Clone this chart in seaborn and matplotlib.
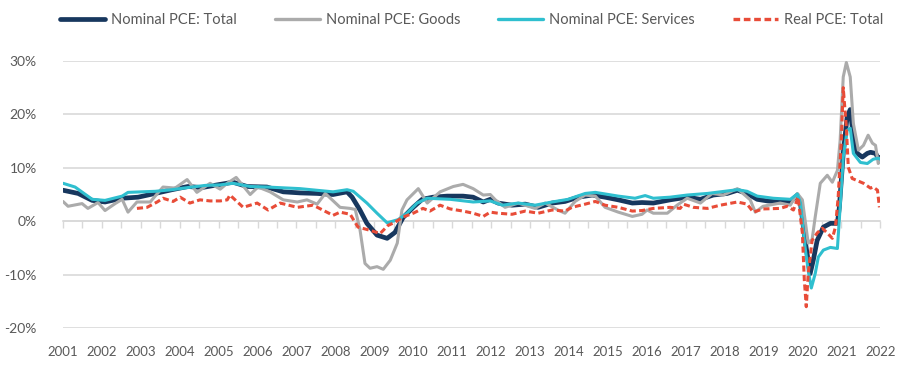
import numpy as np
import pandas as pd
import matplotlib
matplotlib.use("Agg")
import matplotlib.pyplot as plt
import seaborn as sns
from matplotlib.lines import Line2D

# ------------------------------
# Data (YoY % change)
# ------------------------------
total_year = [2001.00, 2001.39, 2001.75, 2002.08, 2002.52, 2002.93, 2003.37, 2003.80, 2004.21, 2004.57,
              2005.04, 2005.37, 2005.73, 2006.24, 2006.66, 2007.09, 2007.53, 2007.94, 2008.30, 2008.43,
              2008.63, 2008.81, 2009.07, 2009.33, 2009.53, 2009.74, 2010.00, 2010.23, 2010.51, 2010.87,
              2011.28, 2011.54, 2011.80, 2011.98, 2012.18, 2012.54, 2012.88, 2013.21, 2013.57, 2013.90,
              2014.24, 2014.60, 2014.93, 2015.27, 2015.63, 2015.88, 2016.17, 2016.60, 2017.04, 2017.38,
              2017.71, 2018.07, 2018.33, 2018.58, 2018.84, 2019.10, 2019.43, 2019.69, 2019.87, 2019.95,
              2020.07, 2020.20, 2020.28, 2020.38, 2020.54, 2020.72, 2020.90, 2020.95, 2021.05, 2021.15,
              2021.23, 2021.31, 2021.41, 2021.54, 2021.67, 2021.75, 2021.88, 2021.95, 2022.00]
total_pct = [5.8, 5.2, 3.9, 3.6, 4.3, 4.5, 5.2, 5.9, 6.5, 6.3,
             6.9, 7.3, 6.5, 6.4, 5.5, 5.3, 5.2, 5.0, 5.5, 4.5,
             2.1, -0.4, -2.6, -3.2, -2.1, 0.7, 2.6, 4.1, 4.5, 4.7,
             4.7, 4.5, 3.6, 4.1, 3.4, 3.0, 3.2, 2.6, 3.4, 3.7,
             4.5, 4.9, 4.5, 4.0, 3.4, 3.5, 3.4, 4.0, 4.5, 4.1,
             4.9, 5.2, 5.8, 5.2, 4.1, 3.8, 3.6, 3.6, 4.9, 3.4,
             -3.6, -9.8, -7.3, -3.6, -1.1, -0.4, -0.4, 2.6, 12.7, 19.5,
             20.9, 15.7, 12.7, 12.0, 12.7, 12.9, 12.7, 11.8, 11.9]

goods_year = [2001.00, 2001.13, 2001.49, 2001.64, 2001.90, 2002.08, 2002.34, 2002.52, 2002.67, 2002.90,
              2003.24, 2003.57, 2003.88, 2004.19, 2004.44, 2004.78, 2005.04, 2005.22, 2005.45, 2005.81,
              2006.01, 2006.32, 2006.66, 2007.02, 2007.27, 2007.53, 2007.74, 2008.12, 2008.38, 2008.51,
              2008.63, 2008.76, 2008.89, 2009.07, 2009.23, 2009.41, 2009.59, 2009.71, 2009.84, 2010.13,
              2010.36, 2010.69, 2011.03, 2011.28, 2011.54, 2011.80, 2011.98, 2012.11, 2012.36, 2012.70,
              2013.13, 2013.39, 2013.72, 2013.90, 2014.16, 2014.42, 2014.68, 2014.93, 2015.27, 2015.63,
              2015.88, 2016.01, 2016.17, 2016.53, 2016.78, 2017.04, 2017.38, 2017.68, 2017.97, 2018.33,
              2018.66, 2018.79, 2018.99, 2019.43, 2019.69, 2019.87, 2020.00, 2020.07, 2020.15, 2020.25,
              2020.33, 2020.46, 2020.64, 2020.77, 2020.90, 2020.97, 2021.05, 2021.13, 2021.23, 2021.31,
              2021.44, 2021.57, 2021.69, 2021.80, 2021.88, 2021.95, 2022.00]
goods_pct = [3.7, 2.8, 3.3, 2.4, 3.5, 2.0, 3.3, 4.1, 1.7, 3.6,
             3.6, 6.4, 6.2, 7.8, 5.4, 7.1, 6.0, 7.1, 8.2, 5.0,
             6.4, 5.5, 4.0, 3.6, 4.0, 3.2, 5.2, 2.6, 2.4, 2.2,
             -1.5, -7.9, -8.8, -8.5, -9.0, -7.3, -4.1, 2.1, 4.0, 6.1,
             3.4, 5.5, 6.5, 6.9, 6.1, 4.9, 5.0, 4.0, 2.6, 3.4,
             2.4, 3.4, 2.1, 1.5, 3.7, 4.9, 4.7, 2.6, 1.7, 0.9,
             1.3, 2.1, 1.5, 1.5, 3.0, 4.3, 3.4, 5.2, 4.9, 6.1,
             4.0, 1.7, 2.8, 3.4, 3.0, 5.2, 4.0, 0.2, -4.1, -3.4,
             0.8, 7.1, 8.6, 7.3, 9.5, 15.1, 27.0, 29.7, 27.0, 18.3,
             13.3, 14.2, 16.1, 14.6, 14.2, 10.8, 11.8]

services_year = [2001.00, 2001.31, 2001.75, 2002.08, 2002.52, 2002.67, 2003.37, 2003.80, 2004.21, 2004.65,
                 2005.04, 2005.37, 2005.81, 2006.24, 2007.09, 2007.94, 2008.30, 2008.46, 2008.81, 2009.07,
                 2009.33, 2009.61, 2009.84, 2010.10, 2010.36, 2010.95, 2011.54, 2011.98, 2012.29, 2012.70,
                 2013.13, 2013.57, 2013.98, 2014.42, 2014.68, 2015.27, 2015.70, 2015.96, 2016.17, 2016.60,
                 2017.04, 2017.56, 2018.33, 2018.58, 2018.84, 2019.25, 2019.69, 2019.87, 2019.95, 2020.07,
                 2020.15, 2020.23, 2020.33, 2020.41, 2020.54, 2020.72, 2020.90, 2020.97, 2021.05, 2021.15,
                 2021.23, 2021.31, 2021.49, 2021.67, 2021.82, 2021.95, 2022.00]
services_pct = [7.1, 6.4, 4.1, 3.9, 4.7, 5.4, 5.6, 5.9, 6.3, 6.7,
                6.8, 7.1, 6.5, 6.4, 6.1, 5.5, 5.9, 5.6, 3.4, 1.5,
                -0.3, 0.3, 1.5, 3.4, 4.3, 4.1, 3.6, 3.8, 3.0, 3.4,
                3.0, 3.6, 4.1, 5.2, 5.4, 4.7, 4.3, 4.8, 4.3, 4.5,
                4.9, 5.2, 5.9, 5.6, 4.7, 4.3, 4.1, 5.1, 3.4, -4.9,
                -9.2, -12.5, -9.8, -6.7, -5.4, -4.9, -5.1, 2.6, 12.0, 17.0,
                17.4, 12.7, 11.0, 10.8, 11.6, 11.8, 11.6]

real_year = [2002.90, 2003.16, 2003.42, 2003.57, 2003.83, 2004.01, 2004.26, 2004.52, 2004.78, 2005.04,
             2005.22, 2005.29, 2005.63, 2005.99, 2006.27, 2006.58, 2007.02, 2007.43, 2007.94, 2008.12,
             2008.38, 2008.58, 2008.89, 2009.15, 2009.35, 2009.53, 2009.74, 2010.00, 2010.25, 2010.43,
             2010.69, 2010.95, 2011.28, 2011.54, 2011.80, 2011.98, 2012.18, 2012.54, 2012.88, 2013.21,
             2013.57, 2013.90, 2014.08, 2014.42, 2014.68, 2014.93, 2015.27, 2015.63, 2015.88, 2016.17,
             2016.60, 2016.86, 2016.94, 2017.20, 2017.56, 2017.89, 2018.33, 2018.58, 2018.74, 2018.99,
             2019.43, 2019.61, 2019.77, 2019.89, 2020.00, 2020.05, 2020.10, 2020.15, 2020.25, 2020.38,
             2020.51, 2020.64, 2020.77, 2020.85, 2020.92, 2021.00, 2021.05, 2021.13, 2021.18, 2021.28,
             2021.41, 2021.57, 2021.75, 2021.82, 2021.93, 2021.98]
real_pct = [2.4, 2.6, 3.6, 4.3, 3.7, 4.5, 3.4, 4.0, 3.8, 3.8,
            4.0, 4.9, 2.6, 3.4, 2.1, 3.4, 2.6, 3.0, 1.1, 1.7,
            1.3, -1.1, -1.7, -2.3, -0.8, -0.2, 0.8, 1.5, 2.4, 1.9,
            3.0, 2.3, 1.9, 1.5, 0.9, 1.7, 1.5, 1.3, 1.9, 1.5,
            2.1, 1.9, 2.6, 3.2, 3.7, 3.0, 2.6, 1.9, 2.0, 2.4,
            2.6, 2.4, 3.2, 2.6, 2.4, 3.0, 3.6, 3.2, 1.7, 2.3,
            2.4, 2.8, 2.1, 4.5, -2.2, -11.0, -16.0, -9.8, -3.6, -2.2,
            -1.3, -2.2, -3.2, -1.1, 4.5, 15.1, 25.0, 17.6, 10.1, 8.0,
            7.6, 7.1, 6.2, 6.4, 5.8, 2.6]

series_names = ['Nominal PCE: Total', 'Nominal PCE: Goods', 'Nominal PCE: Services', 'Real PCE: Total']
colors = ['#17375e', '#ababab', '#2fbfcf', '#e84c38']
year_ticks = list(range(2001, 2023))
pct_ticks = [-20, -10, 0, 10, 20, 30]

# ------------------------------
# Build a long-form table
# ------------------------------
frames = []
for name, yrs, vals in zip(series_names,
                           [total_year, goods_year, services_year, real_year],
                           [total_pct, goods_pct, services_pct, real_pct]):
    frames.append(pd.DataFrame({'year': yrs, 'pct': vals, 'series': name}))
df = pd.concat(frames, ignore_index=True)

# ------------------------------
# Plot
# ------------------------------
sns.set_theme(style='white')
plt.rcParams['font.family'] = ['Lato', 'DejaVu Sans']

fig = plt.figure(figsize=(9, 3.67), dpi=100)
ax = fig.add_axes([0.07, 0.106, 0.908, 0.728])

dash = (0, (2.0, 1.1))
widths = [3.4, 2.2, 2.2, 2.2]
for name, col, lw in zip(series_names, colors, widths):
    sub = df[df['series'] == name]
    if name.startswith('Real'):
        sns.lineplot(data=sub, x='year', y='pct', ax=ax, color=col, linewidth=lw,
                     estimator=None, sort=False, zorder=4, linestyle=dash)
    else:
        sns.lineplot(data=sub, x='year', y='pct', ax=ax, color=col, linewidth=lw,
                     estimator=None, sort=False, zorder=3)

ax.set_xlim(2001, 2022)
ax.set_ylim(-20, 30)
ax.set_xticks(year_ticks)
ax.set_xticklabels([str(y) for y in year_ticks])
ax.set_yticks(pct_ticks)
ax.set_yticklabels([f'{v}%' for v in pct_ticks])
ax.set_xlabel('')
ax.set_ylabel('')
ax.grid(axis='y', color='#d9d9d9', linewidth=1.2)
ax.grid(axis='x', visible=False)
for s in ax.spines.values():
    s.set_visible(False)
ax.tick_params(axis='x', length=0, pad=13, labelsize=9.5, labelcolor='#595959')
ax.tick_params(axis='y', length=0, pad=19, labelsize=10, labelcolor='#595959')

# zero line with half-year ticks
zero_loc = (0 - (-20)) / (30 - (-20))
sec = ax.secondary_xaxis(zero_loc)
sec.set_xticks(np.arange(2001, 2022.01, 0.5))
sec.set_xticklabels([])
sec.tick_params(axis='x', length=5, width=1, color='#d9d9d9', direction='out')
sec.spines['bottom'].set_color('#d9d9d9')
sec.spines['bottom'].set_linewidth(1.2)

handles = [Line2D([], [], color=colors[0], linewidth=3.4),
           Line2D([], [], color=colors[1], linewidth=2.4),
           Line2D([], [], color=colors[2], linewidth=2.4),
           Line2D([], [], color=colors[3], linewidth=2.4, linestyle=dash)]
fig.legend(handles, series_names, loc='upper center', bbox_to_anchor=(0.524, 1.0), ncol=4,
           frameon=False, handlelength=3.1, columnspacing=2.6, handletextpad=0.4,
           prop={'size': 10.5}, labelcolor='#595959')

fig.savefig('out.png', dpi=100)
